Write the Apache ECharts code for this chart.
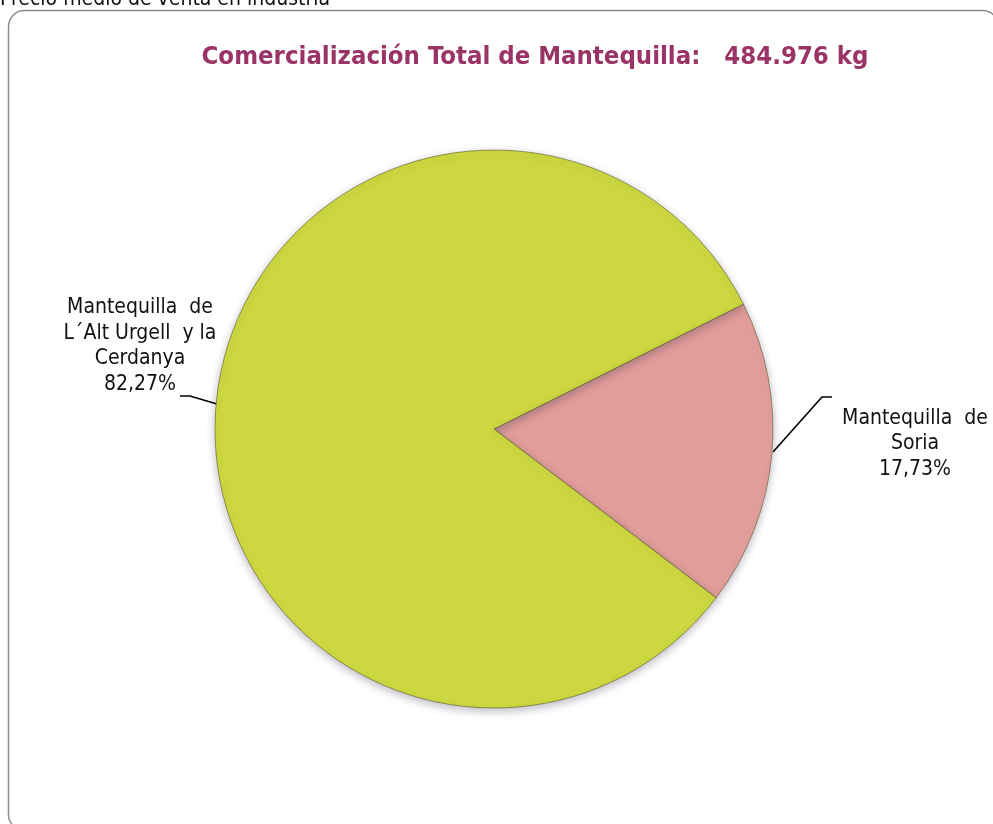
<!DOCTYPE html>
<html><head><meta charset="utf-8">
<script src="https://cdn.jsdelivr.net/npm/echarts@6/dist/echarts.min.js"></script>
<style>html,body{margin:0;padding:0;background:#fff}#c{width:993px;height:824px}</style>
</head><body><div id="c"></div>
<script>
const categories = ['Mantequilla de Soria', 'Mantequilla de L´Alt Urgell y la Cerdanya'];
const labelTexts = ['Mantequilla  de\nSoria', 'Mantequilla  de\nL´Alt Urgell  y la\nCerdanya'];
const values = [17.73, 82.27];
const colors = ['#E39E9B', '#CDD73F'];
const titleText = 'Comercialización Total de Mantequilla:   484.976 kg';
const topText = 'Precio medio de venta en industria';

const labelFont = '"DejaVu Sans Condensed", sans-serif';
const chart = echarts.init(document.getElementById('c'), null, {renderer: 'canvas'});
const labelPos = [
  {x: 915, y: 444, labelLinePoints: [[773, 452], [822, 397], [832, 397]]},
  {x: 140, y: 346, labelLinePoints: [[217, 404], [190, 396], [180, 396]]}
];
chart.setOption({
  backgroundColor: '#fff',
  animation: false,
  graphic: [
    {type: 'rect', shape: {x: 8.5, y: 10.5, width: 990, height: 820, r: 16},
     style: {fill: 'none', stroke: '#8a8a8a', lineWidth: 1.5}, z: 0},
    {type: 'text', x: 0, y: -11, style: {text: topText, font: '21px ' + labelFont, fill: '#111'}},
    {type: 'text', x: 535, y: 57, style: {text: titleText, font: 'bold 25.5px ' + labelFont,
      fill: '#9B3466', textAlign: 'center', textVerticalAlign: 'middle'}}
  ],
  series: [{
    type: 'pie',
    center: [494, 429],
    radius: ['0%', 279],
    startAngle: 26.6,
    clockwise: true,
    data: categories.map((n, i) => ({name: n, value: values[i],
      itemStyle: {color: colors[i]}})),
    itemStyle: {borderColor: 'rgba(90,90,40,0.6)', borderWidth: 1,
      shadowColor: 'rgba(60,60,90,0.35)', shadowBlur: 8, shadowOffsetY: 3},
    label: {
      show: true,
      position: 'outside',
      color: '#111',
      fontFamily: labelFont,
      fontSize: 21,
      lineHeight: 25.5,
      align: 'center',
      formatter: p => labelTexts[p.dataIndex] + '\n' + p.value.toFixed(2).replace('.', ',') + '%'
    },
    labelLine: {show: true, length: 30, length2: 10, lineStyle: {color: '#000', width: 1.6}},
    labelLayout: p => Object.assign({align: 'center', verticalAlign: 'middle'}, labelPos[p.dataIndex]),
    emphasis: {disabled: true}
  }]
});
</script></body></html>
